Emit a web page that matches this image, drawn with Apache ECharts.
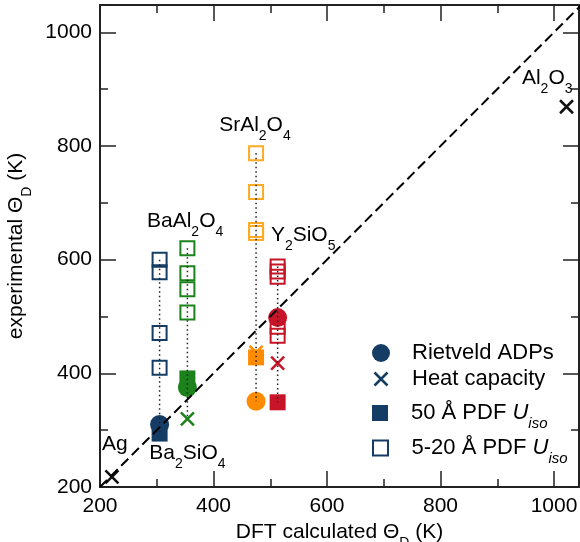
<!DOCTYPE html>
<html>
<head>
<meta charset="utf-8">
<script src="https://cdn.jsdelivr.net/npm/echarts@6/dist/echarts.min.js"></script>
<style>
  html, body { margin: 0; padding: 0; background: #fff; }
  #chart { width: 580px; height: 542px; }
</style>
</head>
<body>
<div id="chart"></div>
<script>
// 化合物：DFT 计算值 (x) 与各实验方法的 Θ_D (y)
const compounds = ['Ba2SiO4', 'BaAl2O4', 'SrAl2O4', 'Y2SiO5'];
const dftTheta = [305, 354, 475, 513];
const rietveld = [310, 375, 351, 498];
const pdf50 = [294, 391, 428, 349];
const pdfLocal = [
  [600, 578, 471, 410],
  [620, 576, 548, 507],
  [787, 719, 652, 647],
  [588, 579, 570, 482, 466]
];
const heatCap = [null, 320, 437, 418];

// 参考物质（只有热容数据）
const refNames = ['Ag', 'Al2O3'];
const refDft = [221, 1022];
const refHeat = [218, 869];

// 图中文字标注（数据坐标）
const labelNames = ['SrAl2O4', 'BaAl2O4', 'Y2SiO5', 'Ba2SiO4', 'Ag', 'Al2O3'];
const labelX = [473, 350, 558, 354, 226, 988];
const labelY = [837, 667, 643, 259, 276, 920];

const parity = [200, 1050];
const xTicks = [200, 400, 600, 800, 1000];
const yTicks = [200, 400, 600, 800, 1000];

const fillColors = ['#143c64', '#1c821c', '#ff8c00', '#c81428'];
const openColors = ['#143c64', '#1c821c', '#ffaa22', '#c81428'];
const navy = '#143c64';
const FONT = 'Liberation Sans';
const CROSS = 'path://M0,0L10,10M10,0L0,10';
const SQUARE = 'path://M0,0L10,0L10,10L0,10Z';

const subRich = { s: { fontSize: 14, fontFamily: FONT, color: '#000', padding: [22, 0, 0, 0] } };

function mkX(pos, interval, len, main) {
  return {
    type: 'value', position: pos, min: 200, max: 1044, interval: interval,
    axisLine: { show: main, onZero: false, lineStyle: { color: '#222', width: 2 } },
    axisTick: { show: true, inside: true, length: len, lineStyle: { color: '#222', width: 1.5 } },
    axisLabel: {
      show: main && pos === 'bottom', fontSize: 21, color: '#000', fontFamily: FONT, margin: 9,
      formatter: v => xTicks.includes(v) ? String(v) : ''
    },
    splitLine: { show: false },
    name: main && pos === 'bottom' ? 'DFT calculated Θ{s|D} (K)' : '',
    nameLocation: 'middle', nameGap: 25,
    nameTextStyle: { fontSize: 21, color: '#000', fontFamily: FONT, rich: subRich }
  };
}
function mkY(pos, interval, len, main) {
  return {
    type: 'value', position: pos, min: 200, max: 1048, interval: interval,
    axisLine: { show: main, onZero: false, lineStyle: { color: '#222', width: 2 } },
    axisTick: { show: true, inside: true, length: len, lineStyle: { color: '#222', width: 1.5 } },
    axisLabel: {
      show: main && pos === 'left', fontSize: 21, color: '#000', fontFamily: FONT, margin: 8,
      padding: [5, 0, 0, 0],
      formatter: v => yTicks.includes(v) ? String(v) : ''
    },
    splitLine: { show: false },
    name: main && pos === 'left' ? 'experimental Θ{s|D} (K)' : '',
    nameLocation: 'middle', nameGap: 59,
    nameTextStyle: { fontSize: 21, color: '#000', fontFamily: FONT, rich: subRich }
  };
}

const series = [];

// 热容（叉）
compounds.forEach((c, i) => {
  if (heatCap[i] == null) return;
  series.push({
    type: 'scatter', symbol: CROSS, symbolSize: 13,
    itemStyle: { color: 'none', borderColor: fillColors[i], borderWidth: 2.5, opacity: 1 },
    data: [[dftTheta[i], heatCap[i]]]
  });
});
refNames.forEach((n, i) => {
  series.push({
    type: 'scatter', symbol: CROSS, symbolSize: 13,
    itemStyle: { color: 'none', borderColor: '#111', borderWidth: 2.5, opacity: 1 },
    data: [[refDft[i], refHeat[i]]]
  });
});
// 5-20 Å PDF（空心方块）
compounds.forEach((c, i) => {
  series.push({
    type: 'scatter', symbol: SQUARE, symbolSize: 14,
    itemStyle: { color: 'rgba(255,255,255,0)', borderColor: openColors[i], borderWidth: 2, opacity: 1 },
    data: pdfLocal[i].map(v => [dftTheta[i], v])
  });
});
// 50 Å PDF（实心方块）
compounds.forEach((c, i) => {
  series.push({
    type: 'scatter', symbol: SQUARE, symbolSize: 16,
    itemStyle: { color: fillColors[i], opacity: 1 },
    data: [[dftTheta[i], pdf50[i]]]
  });
});
// Rietveld（圆）
compounds.forEach((c, i) => {
  series.push({
    type: 'scatter', symbol: 'circle', symbolSize: 19,
    itemStyle: { color: fillColors[i], opacity: 1 },
    data: [[dftTheta[i], rietveld[i]]]
  });
});
// 点线连接同一化合物
compounds.forEach((c, i) => {
  const all = [rietveld[i], pdf50[i], ...pdfLocal[i]];
  if (heatCap[i] != null) all.push(heatCap[i]);
  series.push({
    type: 'line', symbol: 'none', z: 5,
    lineStyle: { color: '#222', width: 1.5, type: [1.5, 3] },
    data: [[dftTheta[i], Math.max(...all)], [dftTheta[i], Math.min(...all)]]
  });
});
// 对角虚线
series.push({
  type: 'line', symbol: 'none', z: 6,
  lineStyle: { color: '#000', width: 2, type: [10, 5] },
  data: [[parity[0], parity[0]], [parity[1], parity[1]]]
});
// 文字标注
series.push({
  type: 'scatter', symbolSize: 1, z: 7, silent: true,
  itemStyle: { color: 'rgba(0,0,0,0)', opacity: 1 },
  data: labelNames.map((n, i) => ({ name: n, value: [labelX[i], labelY[i]] })),
  label: {
    show: true, position: 'inside', fontSize: 21, color: '#000', fontFamily: FONT, opacity: 1,
    formatter: p => p.name.replace(/(\d)/g, '{s|$1}'),
    rich: subRich
  }
});

// 图例用的空系列
const legendItems = [
  { name: 'Rietveld ADPs', icon: 'circle', style: { color: navy, opacity: 1 }, top: 342, h: 18, text: 'Rietveld ADPs' },
  { name: 'Heat capacity', icon: CROSS, style: { color: 'none', borderColor: navy, borderWidth: 2.5, opacity: 1 }, top: 368, h: 13, text: 'Heat capacity' },
  { name: '50 PDF', icon: SQUARE, style: { color: navy, opacity: 1 }, top: 402, h: 16, text: '50 Å PDF {i|U}{si|iso}' },
  { name: '5-20 PDF', icon: SQUARE, style: { color: '#fff', borderColor: navy, borderWidth: 2, opacity: 1 }, top: 437, h: 15, text: '5-20 Å PDF {i|U}{si|iso}' }
];
legendItems.forEach(it => {
  series.push({ name: it.name, type: 'scatter', data: [], itemStyle: it.style });
});

const legendRich = {
  i: { fontSize: 22, fontStyle: 'italic', fontFamily: FONT, color: '#000' },
  si: { fontSize: 15, fontStyle: 'italic', fontFamily: FONT, color: '#000', padding: [22, 0, 0, 0] }
};

const chart = echarts.init(document.getElementById('chart'));
chart.setOption({
  animation: false,
  backgroundColor: '#fff',
  textStyle: { fontFamily: FONT },
  grid: { left: 100, right: 1, top: 5, bottom: 55, containLabel: false, outerBoundsMode: 'none' },
  xAxis: [mkX('bottom', 200, 16, true), mkX('bottom', 100, 8, false), mkX('top', 200, 16, true), mkX('top', 100, 8, false)],
  yAxis: [mkY('left', 200, 16, true), mkY('left', 100, 8, false), mkY('right', 200, 16, true), mkY('right', 100, 8, false)],
  legend: legendItems.map(it => ({
    data: [{ name: it.name, icon: it.icon, itemStyle: it.style }],
    left: 372, top: it.top, padding: 0,
    itemWidth: 52, itemHeight: it.h, selectedMode: false,
    formatter: () => it.text,
    textStyle: { fontSize: 22, color: '#000', fontFamily: FONT, rich: legendRich }
  })),
  series: series
});
</script>
</body>
</html>
